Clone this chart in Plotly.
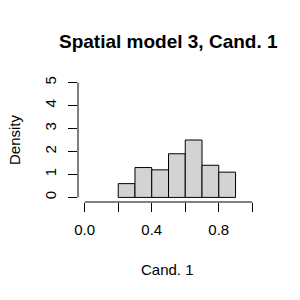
import plotly.graph_objects as go

# Data
bin_edges = [0.2, 0.3, 0.4, 0.5, 0.6, 0.7, 0.8, 0.9]
densities = [0.6, 1.3, 1.2, 1.9, 2.5, 1.4, 1.1]
x_ticks = [0.0, 0.2, 0.4, 0.6, 0.8, 1.0]
x_ticklabels = ["0.0", "", "0.4", "", "0.8", ""]
y_ticks = [0, 1, 2, 3, 4, 5]
y_ticklabels = ["0", "1", "2", "3", "4", "5"]
title = "Spatial model 3, Cand. 1"
xlabel = "Cand. 1"
ylabel = "Density"

centers = [(a + b) / 2 for a, b in zip(bin_edges[:-1], bin_edges[1:])]
widths = [b - a for a, b in zip(bin_edges[:-1], bin_edges[1:])]

FONT = "Liberation Sans, Arial, sans-serif"
W, H = 300, 300
ml, mr, mt, mb = 78, 41, 78, 98
pw, ph = W - ml - mr, H - mt - mb

def px_to_paper_x(px):
    return (px - ml) / pw

def px_to_paper_y(py):
    return (H - mb - py) / ph

fig = go.Figure()
fig.add_trace(go.Bar(
    x=centers, y=densities, width=widths,
    marker=dict(color="#d3d3d3", line=dict(color="black", width=1)),
    hoverinfo="skip",
))

fig.update_layout(
    width=W, height=H,
    margin=dict(l=ml, r=mr, t=mt, b=mb, pad=0, autoexpand=False),
    paper_bgcolor="white", plot_bgcolor="white",
    showlegend=False,
    font=dict(family=FONT, size=15, color="black"),
    xaxis=dict(
        range=[-0.04, 1.04], showgrid=False, zeroline=False, showline=False,
        automargin=False,
        tickmode="array", tickvals=x_ticks, ticktext=x_ticklabels,
        ticks="outside", ticklen=9, tickwidth=1, tickcolor="black",
        ticklabelstandoff=5,
        tickfont=dict(family=FONT, size=15, color="black"),
        fixedrange=True,
    ),
    yaxis=dict(
        range=[-0.2, 5.2], showgrid=False, zeroline=False, showline=False,
        automargin=False,
        tickmode="array", tickvals=y_ticks, ticktext=y_ticklabels,
        ticks="outside", ticklen=9, tickwidth=1, tickcolor="black",
        tickangle=-90, ticklabelstandoff=6,
        tickfont=dict(family=FONT, size=15, color="black"),
        fixedrange=True,
    ),
)

# axis lines spanning only the tick range (base R style)
fig.add_shape(type="line", xref="paper", yref="y", x0=0, x1=0,
              y0=y_ticks[0], y1=y_ticks[-1], line=dict(color="black", width=1))
fig.add_shape(type="line", xref="x", yref="paper", x0=x_ticks[0], x1=x_ticks[-1],
              y0=0, y1=0, line=dict(color="black", width=1))

fig.add_annotation(text="<b>" + title + "</b>", xref="paper", yref="paper",
                   x=0.5, y=px_to_paper_y(41), showarrow=False,
                   xanchor="center", yanchor="middle",
                   font=dict(family=FONT, size=19, color="black"))
fig.add_annotation(text=xlabel, xref="paper", yref="paper",
                   x=px_to_paper_x(167.5), y=px_to_paper_y(269), showarrow=False,
                   xanchor="center", yanchor="middle",
                   font=dict(family=FONT, size=15, color="black"))
fig.add_annotation(text=ylabel, xref="paper", yref="paper",
                   x=px_to_paper_x(14), y=px_to_paper_y(140), showarrow=False,
                   xanchor="center", yanchor="middle", textangle=-90,
                   font=dict(family=FONT, size=15, color="black"))

fig.write_html("out.html", config={"displayModeBar": False},
               post_script="document.body.style.margin='0';document.body.style.overflow='hidden';")
